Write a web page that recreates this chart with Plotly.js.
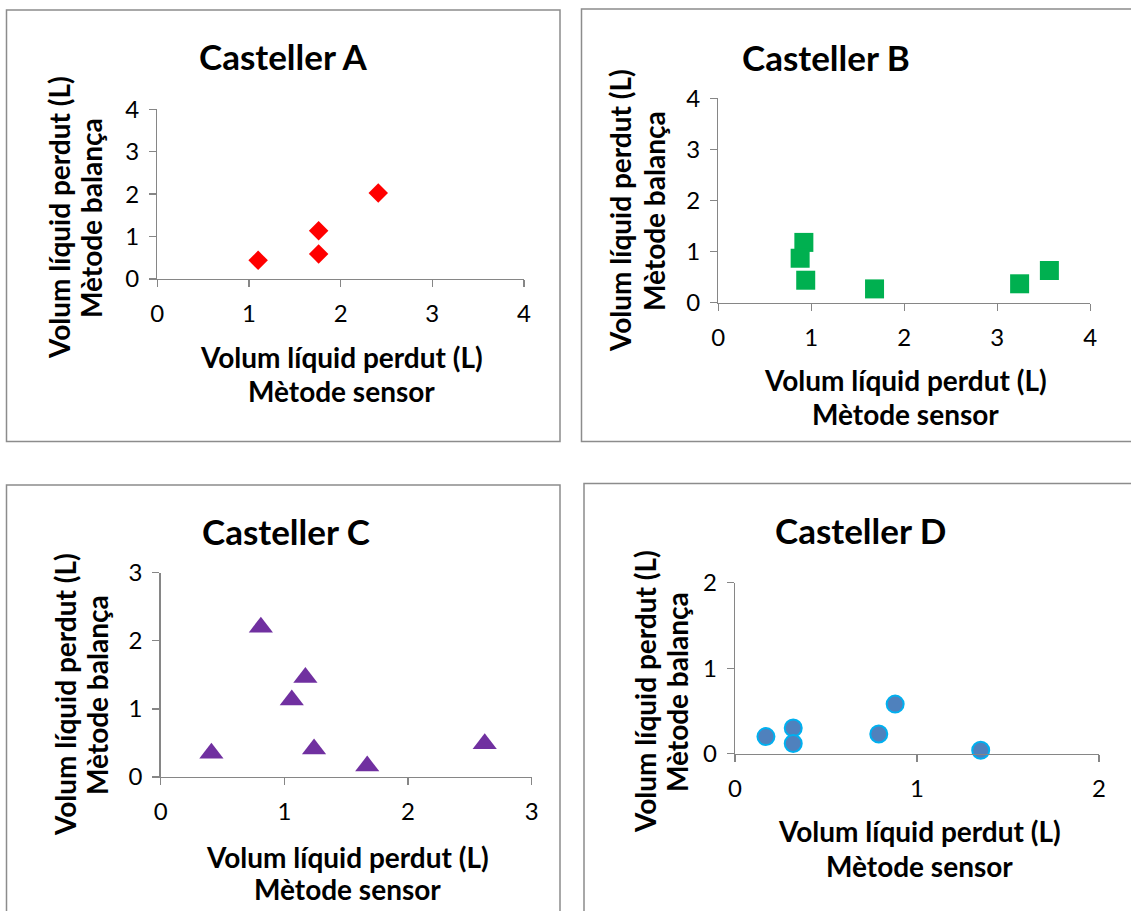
<!DOCTYPE html>
<html>
<head>
<meta charset="utf-8">
<script src="https://cdn.plot.ly/plotly-3.0.1.min.js"></script>
<style>html,body{margin:0;padding:0;background:#fff;}#chart{width:1131px;height:911px;}</style>
</head>
<body>
<div id="chart"></div>
<script>
// ---- Data ----
const titles = ["Casteller A", "Casteller B", "Casteller C", "Casteller D"];
const xTitleLine1 = "Volum líquid perdut (L)";
const xTitleLine2 = "Mètode sensor";
const yTitleLine1 = "Volum líquid perdut (L)";
const yTitleLine2 = "Mètode balança";

const castellerA_sensor = [1.10, 1.76, 1.76, 2.41];
const castellerA_balanca = [0.44, 1.14, 0.59, 2.03];

const castellerB_sensor = [0.92, 0.88, 0.94, 1.68, 3.24, 3.56];
const castellerB_balanca = [1.18, 0.87, 0.44, 0.27, 0.37, 0.63];

const castellerC_sensor = [0.81, 1.17, 1.06, 0.41, 1.24, 1.67, 2.62];
const castellerC_balanca = [2.20, 1.46, 1.13, 0.35, 0.41, 0.16, 0.49];

const castellerD_sensor = [0.17, 0.32, 0.32, 0.79, 0.88, 1.35];
const castellerD_balanca = [0.20, 0.30, 0.12, 0.23, 0.58, 0.04];

const ticksAB = [0, 1, 2, 3, 4];
const ticksC = [0, 1, 2, 3];
const ticksD = [0, 1, 2];

// ---- Layout helpers ----
const W = 1131, H = 911;
const FONT = "Lato, 'Open Sans', sans-serif";
const px = v => v / W;
const py = v => 1 - v / H;
const AXC = '#868686';

function baseAxis(ticks, anchor, standoff) {
  return {
    range: [ticks[0], ticks[ticks.length - 1]],
    tickmode: 'array', tickvals: ticks, ticktext: ticks.map(String),
    showline: true, linecolor: AXC, linewidth: 1.4,
    ticks: 'outside', ticklen: 7, tickwidth: 1.4, tickcolor: AXC,
    ticklabelstandoff: standoff,
    showgrid: false, zeroline: false, anchor: anchor, fixedrange: true,
    tickfont: {family: FONT, size: 24, color: '#000'}
  };
}
function xAxis(x0, x1, ticks, anchor) {
  return Object.assign(baseAxis(ticks, anchor, 6), {domain: [px(x0), px(x1)]});
}
function yAxis(y0, y1, ticks, anchor) {
  return Object.assign(baseAxis(ticks, anchor, 5), {domain: [py(y1), py(y0)]});
}

const traces = [
  {x: castellerA_sensor, y: castellerA_balanca, xaxis: 'x', yaxis: 'y', type: 'scatter', mode: 'markers',
   cliponaxis: false, marker: {symbol: 'diamond', size: 15, color: '#FF0000', line: {width: 0}}},
  {x: castellerB_sensor, y: castellerB_balanca, xaxis: 'x2', yaxis: 'y2', type: 'scatter', mode: 'markers',
   cliponaxis: false, marker: {symbol: 'square', size: 19, color: '#00B050', line: {width: 0}}},
  {x: castellerC_sensor, y: castellerC_balanca, xaxis: 'x3', yaxis: 'y3', type: 'scatter', mode: 'markers',
   cliponaxis: false, marker: {symbol: 'triangle-up', size: 21, color: '#7030A0', line: {width: 0}}},
  {x: castellerD_sensor, y: castellerD_balanca, xaxis: 'x4', yaxis: 'y4', type: 'scatter', mode: 'markers',
   cliponaxis: false, marker: {symbol: 'circle', size: 17, color: '#4F81BD', line: {width: 2, color: '#00B0F0'}}}
];

// panel geometry (pixels)
const panels = [
  {plot: [157.3, 524, 109.3, 279], title: [283, 56], xt: [341, 357, 391], yt: [59, 91, 218], box: [6.5, 560, 10, 441.5]},
  {plot: [718.3, 1090.3, 98.3, 302.7], title: [826, 57], xt: [905, 380, 414], yt: [620, 654, 211], box: [581.5, 1140, 9, 441.5]},
  {plot: [160.7, 531.7, 572.7, 777], title: [286, 531], xt: [347, 857, 889], yt: [65, 97, 695], box: [6.5, 560, 485, 920]},
  {plot: [735, 1099, 582.7, 753.7], title: [860, 530], xt: [919, 831, 866], yt: [645, 677, 692], box: [584, 1140, 483.5, 920]}
];
const tickSets = [ticksAB, ticksAB, ticksC, ticksD];

const layout = {
  width: W, height: H, margin: {l: 0, r: 0, t: 0, b: 0},
  paper_bgcolor: '#fff', plot_bgcolor: 'rgba(0,0,0,0)', showlegend: false,
  annotations: [], shapes: []
};

panels.forEach((p, i) => {
  const n = i === 0 ? '' : String(i + 1);
  layout['xaxis' + n] = xAxis(p.plot[0], p.plot[1], tickSets[i], 'y' + n);
  layout['yaxis' + n] = yAxis(p.plot[2], p.plot[3], tickSets[i], 'x' + n);
  const bold = (t, size, x, y, angle) => ({
    text: t, xref: 'paper', yref: 'paper', x: px(x), y: py(y), xanchor: 'center', yanchor: 'middle',
    showarrow: false, textangle: angle || 0, font: {family: FONT, size: size, color: '#000', weight: 'bold'}
  });
  layout.annotations.push(bold(titles[i], 35, p.title[0], p.title[1]));
  layout.annotations.push(bold(xTitleLine1, 28, p.xt[0], p.xt[1]));
  layout.annotations.push(bold(xTitleLine2, 28, p.xt[0], p.xt[2]));
  layout.annotations.push(bold(yTitleLine1, 28, p.yt[0], p.yt[2], -90));
  layout.annotations.push(bold(yTitleLine2, 28, p.yt[1], p.yt[2], -90));
  layout.shapes.push({type: 'rect', xref: 'paper', yref: 'paper',
    x0: px(p.box[0]), x1: px(p.box[1]), y0: py(p.box[3]), y1: py(p.box[2]),
    line: {color: '#8C8C8C', width: 1.5}, fillcolor: 'rgba(0,0,0,0)', layer: 'below'});
});

Plotly.newPlot('chart', traces, layout, {staticPlot: true, displayModeBar: false});
</script>
</body>
</html>
